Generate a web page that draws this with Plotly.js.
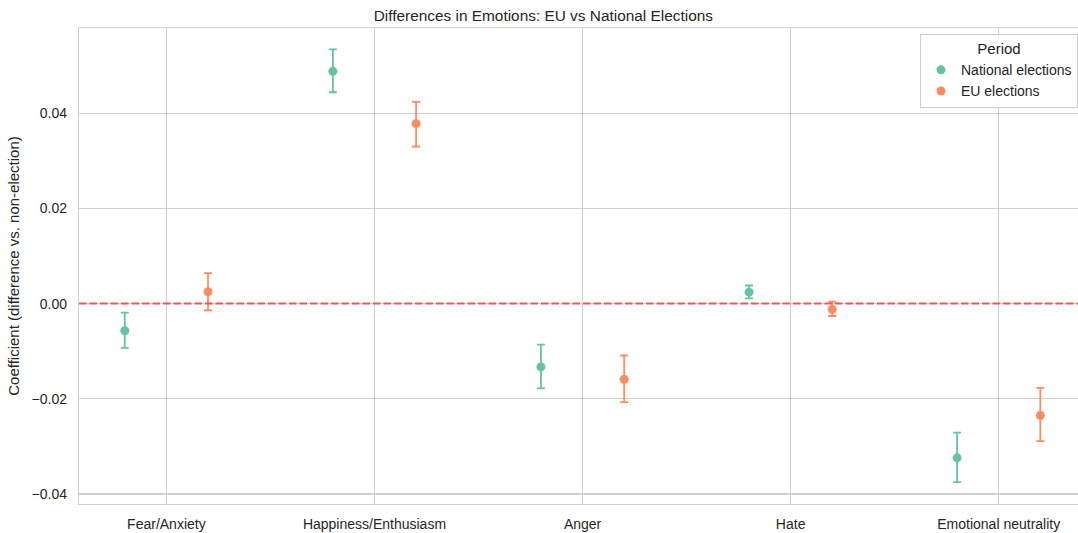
<!DOCTYPE html>
<html>
<head>
<meta charset="utf-8">
<script src="https://cdn.plot.ly/plotly-3.0.1.min.js"></script>
<style>
  html, body { margin: 0; padding: 0; background: #ffffff; }
  #chart { width: 1078px; height: 533px; }
</style>
</head>
<body>
<div id="chart"></div>
<script>
// Emotion categories along the x axis
const emotions = ["Fear/Anxiety", "Happiness/Enthusiasm", "Anger", "Hate", "Emotional neutrality"];

// Coefficients (difference vs. non-election) with 95% confidence bounds
const nationalCoef  = [-0.0057, 0.0488, -0.0133, 0.0024, -0.0324];
const nationalLower = [-0.0093, 0.0444, -0.0178, 0.0011, -0.0375];
const nationalUpper = [-0.0019, 0.0534, -0.0086, 0.0038, -0.0271];

const euCoef  = [0.0025, 0.0378, -0.0159, -0.0012, -0.0235];
const euLower = [-0.0014, 0.0330, -0.0207, -0.0026, -0.0289];
const euUpper = [0.0064, 0.0424, -0.0109, 0.0004, -0.0177];

const periods = ["National elections", "EU elections"];
const colors = ["#66c2a5", "#fc8d62"];
const dodge = 0.2;

function periodTrace(name, coef, lower, upper, color, offset) {
  return {
    type: "scatter",
    mode: "markers",
    name: name,
    x: emotions.map((_, i) => i + offset),
    y: coef,
    marker: { color: color, size: 9 },
    error_y: {
      type: "data",
      symmetric: false,
      array: coef.map((c, i) => upper[i] - c),
      arrayminus: coef.map((c, i) => c - lower[i]),
      color: color,
      thickness: 1.8,
      width: 4
    },
    hoverinfo: "x+y"
  };
}

const data = [
  periodTrace(periods[0], nationalCoef, nationalLower, nationalUpper, colors[0], -dodge),
  periodTrace(periods[1], euCoef, euLower, euUpper, colors[1], dodge)
];

const fontFamily = "Arial, 'Liberation Sans', Helvetica, sans-serif";

const layout = {
  width: 1078,
  height: 533,
  margin: { l: 79, r: 0, t: 28, b: 29, pad: 0 },
  paper_bgcolor: "#ffffff",
  plot_bgcolor: "#ffffff",
  font: { family: fontFamily, size: 14, color: "#262626" },
  showlegend: true,
  title: {
    text: "Differences in Emotions: EU vs National Elections",
    font: { family: fontFamily, size: 15.4, color: "#262626" },
    x: 0.504,
    xanchor: "center",
    y: 0.97,
    yanchor: "middle"
  },
  xaxis: {
    range: [-0.42, 4.381],
    tickvals: emotions.map((_, i) => i),
    ticktext: emotions,
    showgrid: true,
    gridcolor: "#d0d0d0",
    gridwidth: 1.2,
    zeroline: false,
    showline: true,
    linecolor: "#d0d0d0",
    linewidth: 1.2,
    mirror: true,
    ticks: "outside",
    ticklen: 7,
    tickcolor: "rgba(0,0,0,0)",
    tickfont: { size: 14, color: "#262626" },
    fixedrange: true
  },
  yaxis: {
    range: [-0.0421, 0.0579],
    tickvals: [-0.04, -0.02, 0, 0.02, 0.04],
    tickformat: ".2f",
    showgrid: true,
    gridcolor: "#d0d0d0",
    gridwidth: 1.2,
    zeroline: false,
    showline: true,
    linecolor: "#d0d0d0",
    linewidth: 1.2,
    ticks: "outside",
    ticklen: 8,
    tickcolor: "rgba(0,0,0,0)",
    tickfont: { size: 14, color: "#262626" },
    title: {
      text: "Coefficient (difference vs. non-election)",
      font: { size: 15, color: "#262626" },
      standoff: 8
    },
    fixedrange: true
  },
  shapes: [
    {
      // dashed reference line at zero
      type: "line",
      xref: "paper", x0: 0, x1: 1,
      yref: "y", y0: 0, y1: 0,
      line: { color: "#ff5050", width: 2, dash: "7.5px,3px" },
      layer: "above"
    }
  ],
  legend: {
    title: { text: "Period", font: { size: 15, color: "#262626" }, side: "top center" },
    x: 1, xanchor: "right",
    y: 0.988, yanchor: "top",
    bgcolor: "rgba(255,255,255,0.9)",
    bordercolor: "#cccccc",
    borderwidth: 1,
    font: { size: 14, color: "#262626" },
    itemwidth: 30,
    tracegroupgap: 0
  }
};

Plotly.newPlot("chart", data, layout, { displayModeBar: false, staticPlot: true });
</script>
</body>
</html>
